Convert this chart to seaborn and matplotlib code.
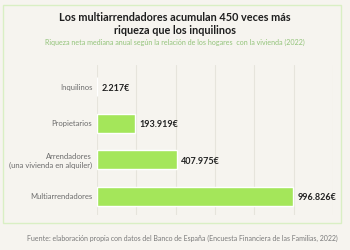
import matplotlib
matplotlib.use("Agg")
import matplotlib.pyplot as plt
import matplotlib.patches as mpatches
import seaborn as sns
import pandas as pd

# Datos
categorias = ['Inquilinos', 'Propietarios', 'Arrendadores\n(una vivienda en alquiler)', 'Multiarrendadores']
riqueza = [2217, 193919, 407975, 996826]
etiquetas = ['2.217€', '193.919€', '407.975€', '996.826€']

df = pd.DataFrame({'cat': categorias, 'val': riqueza})

fondo = '#f6f4ef'
verde = '#a4e65a'

sns.set_style("white")
plt.rcParams['font.family'] = ['Lato', 'DejaVu Sans']

fig = plt.figure(figsize=(3.5, 2.5), dpi=100, facecolor=fondo)

# marco verde claro
fig.patches.append(mpatches.Rectangle((3 / 350, 1 - 223 / 250), 338 / 350, 218 / 250,
                                      transform=fig.transFigure, fill=False,
                                      edgecolor='#d9efc4', linewidth=1.0))

ax = fig.add_axes([97 / 350, 1 - 215 / 250, 236 / 350, 150 / 250])
ax.set_facecolor(fondo)

sns.barplot(data=df, y='cat', x='val', orient='h', color=verde, width=0.52,
            saturation=1, ax=ax, zorder=3)

ax.set_xlim(0, 1200000)
ax.set_ylim(3.52, -0.6)
ax.set_xticks(range(0, 1200001, 200000))
ax.set_xticklabels([])
ax.grid(True, axis='x', color='#e6e4dc', linewidth=0.8, zorder=0)
ax.grid(False, axis='y')
for s in ax.spines.values():
    s.set_visible(False)
ax.tick_params(axis='both', length=0)
ax.tick_params(axis='y', labelsize=5.5, labelcolor='#6b6b6b', pad=3.5)
for lab in ax.get_yticklabels():
    lab.set_horizontalalignment('right')
    lab.set_multialignment('right')
ax.set_xlabel('')
ax.set_ylabel('')

for i, (v, t) in enumerate(zip(riqueza, etiquetas)):
    ax.annotate(t, (v, i), xytext=(3, -1), textcoords='offset points',
                va='center', ha='left', fontsize=6.5, fontweight='bold', color='#222222')

fig.text(0.5, 1 - 17 / 250, 'Los multiarrendadores acumulan 450 veces más',
         ha='center', va='center', fontsize=7.8, fontweight='bold', color='#1e1e1e')
fig.text(0.5, 1 - 31 / 250, 'riqueza que los inquilinos',
         ha='center', va='center', fontsize=7.8, fontweight='bold', color='#1e1e1e')
fig.text(0.5, 1 - 42 / 250,
         'Riqueza neta mediana anual según la relación de los hogares  con la vivienda (2022)',
         ha='center', va='center', fontsize=5.15, color='#93c47a')
fig.text(338 / 350, 1 - 238 / 250,
         'Fuente: elaboración propia con datos del Banco de España (Encuesta Financiera de las Familias, 2022)',
         ha='right', va='center', fontsize=5.0, color='#7a7a7a')

fig.savefig('out.png', dpi=100, facecolor=fondo)
